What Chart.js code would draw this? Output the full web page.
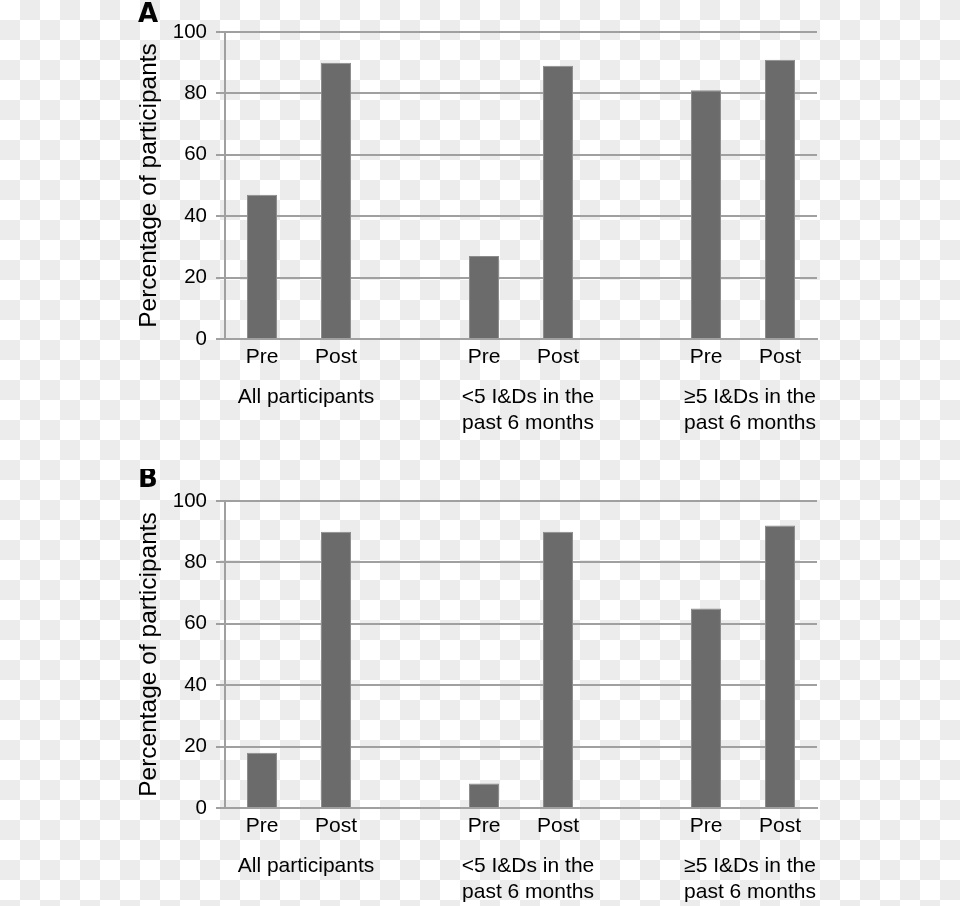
<!DOCTYPE html>
<html>
<head>
<meta charset="utf-8">
<script src="https://cdn.jsdelivr.net/npm/chart.js@4"></script>
<style>
  html, body {
    margin: 0;
    padding: 0;
    width: 960px;
    height: 906px;
    overflow: hidden;
    background: repeating-conic-gradient(#ececec 0 25%, #ffffff 0 50%) 0 0 / 40px 40px;
  }
  .panel { position: absolute; left: 0; width: 960px; height: 469px; }
  #panelA { top: 0; }
  #panelB { top: 469px; }
</style>
</head>
<body>
<div class="panel" id="panelA"><canvas id="chartA" width="960" height="469"></canvas></div>
<div class="panel" id="panelB"><canvas id="chartB" width="960" height="469"></canvas></div>

<script>
// data
const categories = ["Pre", "Post", "", "Pre", "Post", "", "Pre", "Post"];
const groupLabels = [
  ["All participants"],
  ["<5 I&Ds in the", "past 6 months"],
  ["\u22655 I&Ds in the", "past 6 months"]
];
const panelAValues = [47, 90, null, 27, 89, null, 81, 91];
const panelBValues = [18, 90, null, 8, 90, null, 65, 92];
const yTickValues = [0, 20, 40, 60, 80, 100];
const yTitle = "Percentage of participants";

const FONT = "'Liberation Sans', Arial, Helvetica, sans-serif";
const GRID = "#a0a0a0";

// ================================
// group labels + panel letter
// ================================
const extrasPlugin = {
  id: "extras",
  afterDraw(chart, args, opts) {
    const ctx = chart.ctx;
    const x = chart.scales.x;
    ctx.save();
    ctx.fillStyle = "#000";
    ctx.font = "21px " + FONT;
    ctx.textAlign = "center";
    ctx.textBaseline = "middle";
    groupLabels.forEach((lines, g) => {
      const cx = (x.getPixelForValue(g * 3) + x.getPixelForValue(g * 3 + 1)) / 2 + 7;
      lines.forEach((line, i) => {
        ctx.fillText(line, cx, 397 + i * 26);
      });
    });
    ctx.font = "bold 26px 'DejaVu Sans', sans-serif";
    ctx.textAlign = "left";
    ctx.textBaseline = "alphabetic";
    ctx.fillText(opts.letter, 138, opts.letterY);
    ctx.restore();
  }
};

function makeChart(id, values, letter, letterY) {
  const ctx = document.getElementById(id).getContext("2d");
  return new Chart(ctx, {
    type: "bar",
    data: {
      labels: categories,
      datasets: [
        {
          data: values,
          backgroundColor: "#6b6b6b",
          borderColor: "#8c8c8c",
          borderWidth: 1,
          barPercentage: 0.405,
          categoryPercentage: 1.0
        }
      ]
    },
    options: {
      responsive: false,
      animation: false,
      layout: { padding: { top: 32, right: 143, bottom: 0, left: 0 } },
      plugins: {
        legend: { display: false },
        tooltip: { enabled: false },
        extras: { letter: letter, letterY: letterY }
      },
      scales: {
        x: {
          type: "category",
          grid: { display: false, drawTicks: false },
          border: { display: true, color: GRID, width: 2 },
          ticks: {
            color: "#000",
            padding: 6,
            autoSkip: false,
            maxRotation: 0,
            font: { family: FONT, size: 21 }
          },
          afterFit(scale) { scale.height = 130; }
        },
        y: {
          min: 0,
          max: 100,
          afterBuildTicks(scale) {
            scale.ticks = yTickValues.map(v => ({ value: v }));
          },
          grid: { color: GRID, lineWidth: 2, tickLength: 9, drawTicks: true },
          border: { display: true, color: GRID, width: 2 },
          ticks: {
            color: "#000",
            padding: 9,
            font: { family: FONT, size: 20.5 }
          },
          title: {
            display: true,
            text: yTitle,
            color: "#000",
            padding: { top: 135, bottom: 0 },
            font: { family: FONT, size: 24.5 }
          },
          afterFit(scale) { scale.width = 225; }
        }
      }
    },
    plugins: [extrasPlugin]
  });
}

makeChart("chartA", panelAValues, "A", 22);
makeChart("chartB", panelBValues, "B", 18);
</script>
</body>
</html>
